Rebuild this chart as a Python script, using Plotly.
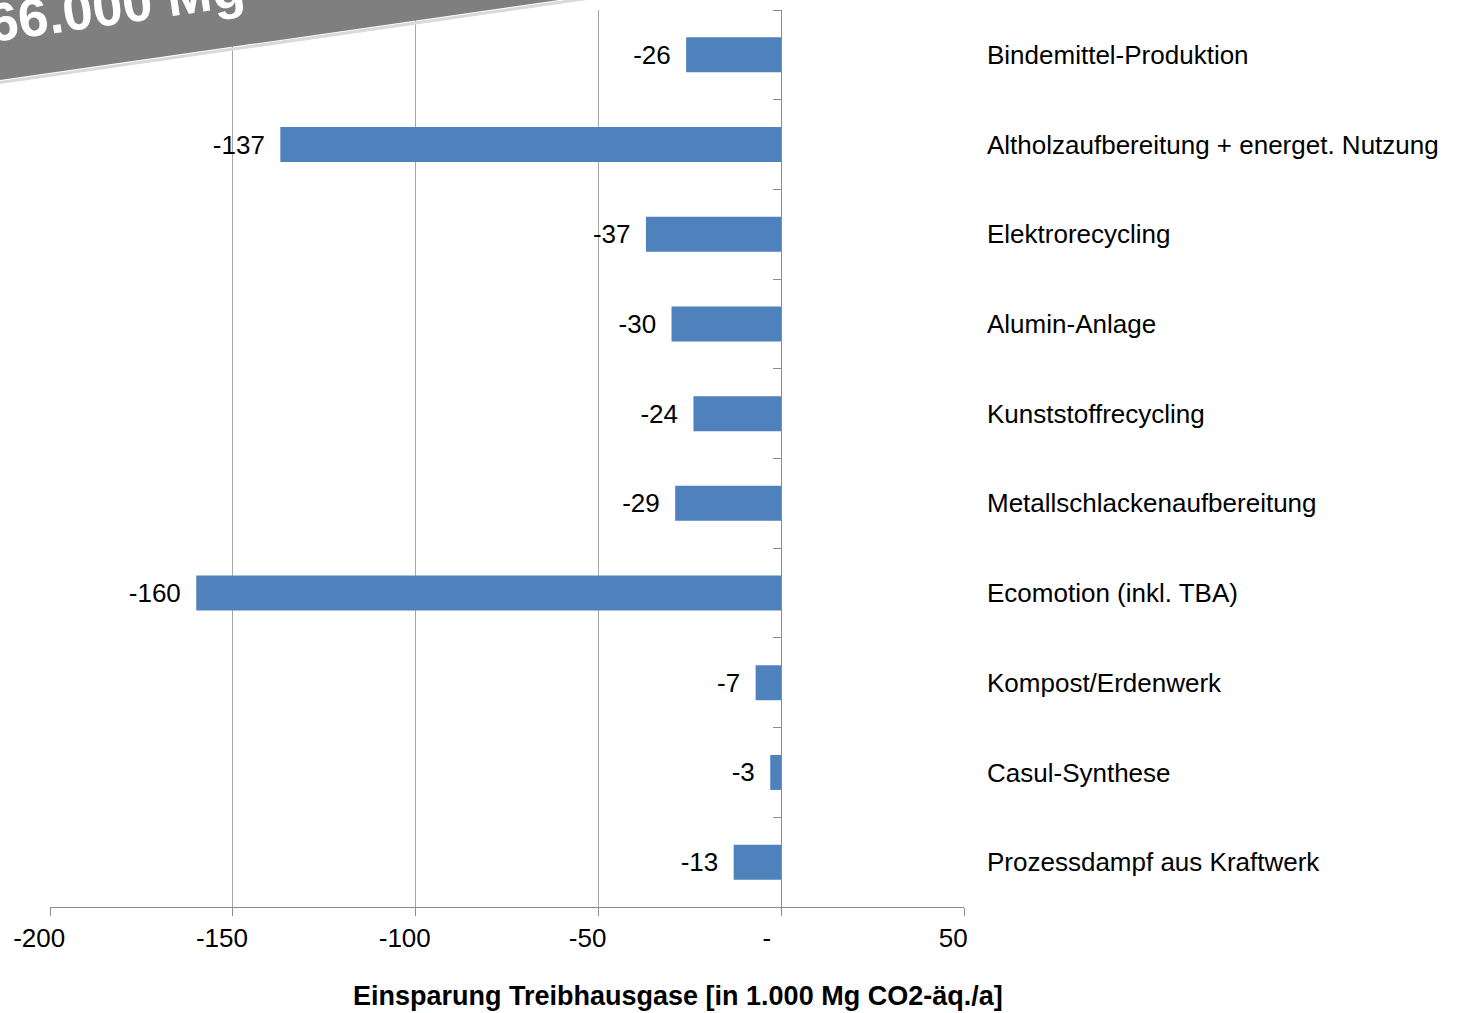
import plotly.graph_objects as go

categories = [
    "Bindemittel-Produktion",
    "Altholzaufbereitung + energet. Nutzung",
    "Elektrorecycling",
    "Alumin-Anlage",
    "Kunststoffrecycling",
    "Metallschlackenaufbereitung",
    "Ecomotion (inkl. TBA)",
    "Kompost/Erdenwerk",
    "Casul-Synthese",
    "Prozessdampf aus Kraftwerk",
]
values = [-26, -137, -37, -30, -24, -29, -160, -7, -3, -13]
value_labels = ["-26", "-137", "-37", "-30", "-24", "-29", "-160", "-7", "-3", "-13"]
tick_vals = [-200, -150, -100, -50, 0, 50]
tick_text = ["-200", "-150", "-100", "-50", "-", "50"]
x_title = "Einsparung Treibhausgase [in 1.000 Mg CO2-äq./a]"
banner_text = "66.000 Mg"

FONT = "Liberation Sans, Arial, sans-serif"
W, H = 1464, 1013
ML, MR, MT, MB = 50, 500, 10, 106
PW, PH = W - ML - MR, H - MT - MB
NB = "\u00a0"


def px2paper(px, py):
    return (px - ML) / PW, (H - MB - py) / PH


# accounting-style labels carry trailing padding
tick_text_padded = [t + NB * (4 if t == "-" else 3) for t in tick_text]

fig = go.Figure()
fig.add_trace(go.Bar(
    x=values, y=categories, orientation="h",
    marker=dict(color="#4F81BD", line=dict(width=0)),
    width=0.39,
    text=[t + NB + "\u2009" for t in value_labels],
    textposition="outside", constraintext="none", cliponaxis=False,
    textfont=dict(size=26, color="#000000", family=FONT),
    hoverinfo="skip", showlegend=False,
))
# invisible helper so the zero-position category axis is drawn
fig.add_trace(go.Scatter(
    x=values, y=categories, yaxis="y2", mode="markers",
    marker=dict(opacity=0, size=1), hoverinfo="skip", showlegend=False,
))

# banner in upper-left corner
slope = 80 / 559
p = [px2paper(*pt) for pt in [(-30, -30), (559 + 30 / slope, -30), (-30, 80 + 30 * slope)]]
path = "M {} {} L {} {} L {} {} Z".format(p[0][0], p[0][1], p[1][0], p[1][1], p[2][0], p[2][1])
s0 = px2paper(-30, 82.5 + 30 * slope)
s1 = px2paper(559 + 30 / slope + 17, -30)
shapes = [
    dict(type="line", xref="paper", yref="paper", x0=s0[0], y0=s0[1], x1=s1[0], y1=s1[1],
         line=dict(color="#d9d9d9", width=3), layer="above"),
    dict(type="path", xref="paper", yref="paper", path=path,
         fillcolor="#7f7f7f", line=dict(width=0), layer="above"),
]
bc = px2paper(116, 5)
fig.add_annotation(
    x=bc[0], y=bc[1], xref="paper", yref="paper", text="<b>" + banner_text + "</b>",
    showarrow=False, textangle=-8.2, xanchor="center", yanchor="middle",
    font=dict(size=54, color="#ffffff", family=FONT),
)
tc = px2paper(678, 996)
fig.add_annotation(
    x=tc[0], y=tc[1], xref="paper", yref="paper", text="<b>" + x_title + "</b>",
    showarrow=False, xanchor="center", yanchor="middle",
    font=dict(size=27, color="#000000", family=FONT),
)

fig.update_layout(
    width=W, height=H,
    margin=dict(l=ML, r=MR, t=MT, b=MB, pad=0),
    paper_bgcolor="#ffffff", plot_bgcolor="#ffffff",
    font=dict(family=FONT, size=26, color="#000000"),
    shapes=shapes,
    xaxis=dict(
        range=[-200, 50], tickvals=tick_vals, ticktext=tick_text_padded,
        showgrid=True, gridcolor="#a6a6a6", gridwidth=1,
        zeroline=False, showline=True, linecolor="#8c8c8c", linewidth=1,
        ticks="outside", ticklen=8, tickcolor="#8c8c8c",
        tickfont=dict(size=26, color="#000000"),
    ),
    yaxis=dict(
        type="category", categoryorder="array", categoryarray=categories,
        range=[len(categories) - 0.5, -0.5], autorange=False,
        side="right", showgrid=False, zeroline=False,
        showline=False, ticks="", ticklabelstandoff=22,
        tickfont=dict(size=26, color="#000000"),
    ),
    yaxis2=dict(
        type="category", overlaying="y", matches="y", anchor="free", position=(781 - ML) / PW,
        side="left", showgrid=False, zeroline=False, showline=True,
        linecolor="#8c8c8c", linewidth=1, ticks="outside", tickson="boundaries",
        ticklen=8, tickcolor="#8c8c8c", showticklabels=False,
    ),
)

fig.write_html("out.html")
